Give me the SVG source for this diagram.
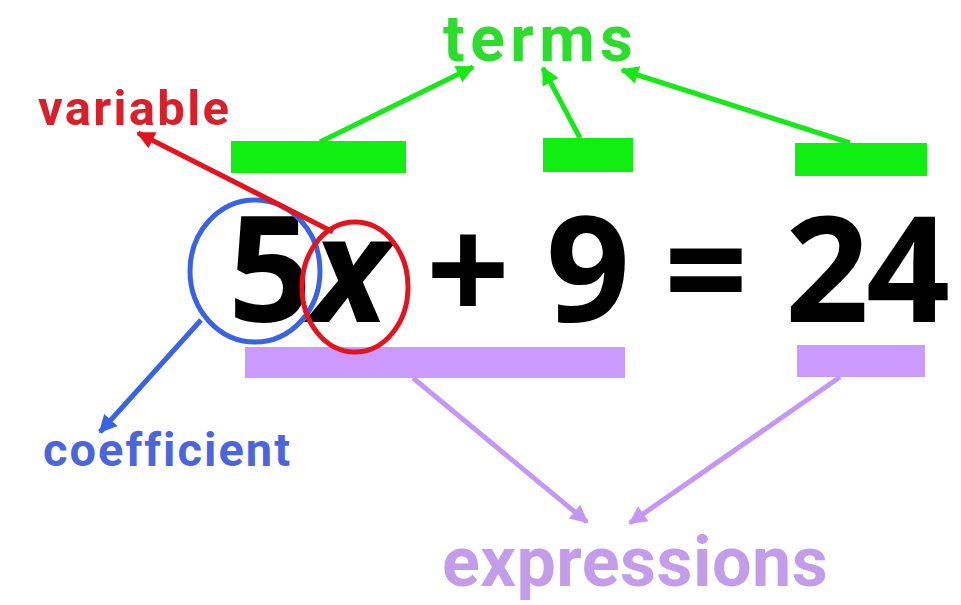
<svg xmlns="http://www.w3.org/2000/svg" width="961" height="605" viewBox="0 0 961 605">
<style>
.lbl{font-family:Roboto,"Open Sans","Liberation Sans",sans-serif;font-weight:700}
.eq{font-family:"Open Sans","Liberation Sans",sans-serif;font-weight:700;font-size:147px;fill:#000;text-anchor:middle}
.g{stroke:#17e817;stroke-width:5;fill:none}
.p{stroke:#c497f5;stroke-width:5;fill:none}
.r{stroke:#e3141e;stroke-width:5;fill:none}
.b{stroke:#3a62e4;stroke-width:5;fill:none}
</style>
<defs>
<marker id="ag" viewBox="0 0 10 10" refX="9" refY="5" markerUnits="userSpaceOnUse" markerWidth="22" markerHeight="18" orient="auto"><path d="M0,0 L10,5 L0,10 z" fill="#17e817"/></marker>
<marker id="ap" viewBox="0 0 10 10" refX="9" refY="5" markerUnits="userSpaceOnUse" markerWidth="22" markerHeight="18" orient="auto"><path d="M0,0 L10,5 L0,10 z" fill="#c497f5"/></marker>
<marker id="ar" viewBox="0 0 10 10" refX="9" refY="5" markerUnits="userSpaceOnUse" markerWidth="22" markerHeight="18" orient="auto"><path d="M0,0 L10,5 L0,10 z" fill="#e3141e"/></marker>
<marker id="ab" viewBox="0 0 10 10" refX="9" refY="5" markerUnits="userSpaceOnUse" markerWidth="22" markerHeight="18" orient="auto"><path d="M0,0 L10,5 L0,10 z" fill="#3a62e4"/></marker>
</defs>
<rect width="961" height="605" fill="#fff"/>
<g id="equation">
<text class="eq" x="270" y="322">5</text>
<text class="eq" x="350" y="322" font-style="italic">x</text>
<text class="eq" x="468" y="322">+</text>
<text class="eq" x="588" y="322">9</text>
<text class="eq" x="706" y="322">=</text>
<text class="eq" x="827" y="322">2</text>
<text class="eq" x="908" y="322">4</text>
</g>
<g id="term-bars" fill="#11ee11">
<rect x="231" y="141" width="175" height="32"/>
<rect x="543" y="138" width="90" height="34"/>
<rect x="795" y="143" width="132" height="33"/>
</g>
<g id="expression-bars" fill="#cc99ff">
<rect x="245" y="347" width="380" height="31"/>
<rect x="797" y="345" width="128" height="32"/>
</g>
<g id="coefficient-circle"><ellipse cx="255" cy="271" rx="65" ry="71" class="b"/></g>
<g id="variable-circle"><ellipse cx="355" cy="287" rx="53" ry="65" class="r"/></g>
<g id="terms"><text class="lbl" x="443" y="61" font-size="64" fill="#2ddc2d" letter-spacing="5.5">terms</text></g>
<g id="variable"><text class="lbl" x="38" y="125" font-size="49" fill="#d9202a" letter-spacing="2.3">variable</text></g>
<g id="coefficient"><text class="lbl" x="43" y="466" font-size="47" fill="#4a66da" letter-spacing="2">coefficient</text></g>
<g id="expressions"><text class="lbl" x="442" y="586" font-size="70" fill="#c39de9" letter-spacing="0.5">expressions</text></g>
<g id="connectors">
<line x1="320" y1="142" x2="473" y2="67" class="g" marker-end="url(#ag)"/>
<line x1="580" y1="138" x2="543" y2="68" class="g" marker-end="url(#ag)"/>
<line x1="850" y1="143" x2="622" y2="70" class="g" marker-end="url(#ag)"/>
<line x1="333" y1="232" x2="138" y2="133" class="r" marker-end="url(#ar)"/>
<line x1="201" y1="320" x2="100" y2="432" class="b" marker-end="url(#ab)"/>
<line x1="413" y1="378" x2="587" y2="522" class="p" marker-end="url(#ap)"/>
<line x1="840" y1="377" x2="630" y2="523" class="p" marker-end="url(#ap)"/>
</g>
</svg>
